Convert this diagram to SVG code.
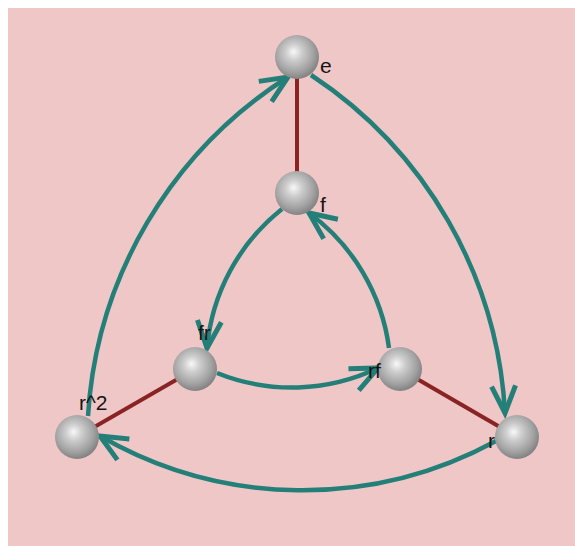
<svg xmlns="http://www.w3.org/2000/svg" width="575" height="546" viewBox="0 0 575 546">
<style>
.bg{fill:#F0C7C7}
.red{stroke:#8A2424;stroke-width:4;fill:none}
.arc{stroke:#257F79;stroke-width:4.5;fill:none;marker-end:url(#ah)}
.ball{fill:url(#sph)}
.lbl{font-family:"Liberation Sans",Arial,sans-serif;font-size:21px;fill:#151515}
</style>
<defs>
<radialGradient id="sph" cx="0.45" cy="0.42" r="0.62" fx="0.42" fy="0.38">
<stop offset="0" stop-color="#f8f8f8"/>
<stop offset="0.3" stop-color="#cdcdcd"/>
<stop offset="0.7" stop-color="#a2a2a2"/>
<stop offset="1" stop-color="#7a7a7a"/>
</radialGradient>
<marker id="ah" markerUnits="userSpaceOnUse" viewBox="-32 -16 36 32" markerWidth="36" markerHeight="32" refX="0" refY="0" orient="auto" overflow="visible">
<path d="M-27,-12 L0,0 L-27,12" fill="none" stroke="#257F79" stroke-width="5"/>
</marker>
</defs>
<rect class="bg" x="8" y="8" width="567" height="538"/>
<g id="edges">
<line class="red" x1="297" y1="57" x2="297" y2="193"/>
<line class="red" x1="195" y1="369" x2="77" y2="437"/>
<line class="red" x1="400" y1="369" x2="517" y2="437"/>
</g>
<g id="connectors">
<path class="arc" d="M311,75 A433,433 0 0 1 505,413"/>
<path class="arc" d="M496,441 A405,405 0 0 1 100,436"/>
<path class="arc" d="M88,416 A433,433 0 0 1 288,77"/>
<path class="arc" d="M282,209 A200,200 0 0 0 207,348"/>
<path class="arc" d="M217,373 A200,200 0 0 0 378,368"/>
<path class="arc" d="M389,348 A200,200 0 0 0 309,213"/>
</g>
<g id="node-e"><circle class="ball" cx="297" cy="57" r="22"/><text class="lbl" x="320" y="73">e</text></g>
<g id="node-f"><circle class="ball" cx="297" cy="193" r="22"/><text class="lbl" x="320" y="212">f</text></g>
<g id="node-fr"><circle class="ball" cx="195" cy="369" r="22"/><text class="lbl" x="198" y="340">fr</text></g>
<g id="node-rf"><circle class="ball" cx="400" cy="369" r="22"/><text class="lbl" x="368" y="378">rf</text></g>
<g id="node-r2"><circle class="ball" cx="77" cy="437" r="22"/><text class="lbl" x="79" y="410">r^2</text></g>
<g id="node-r"><circle class="ball" cx="517" cy="437" r="22"/><text class="lbl" x="488" y="448">r</text></g>
</svg>
